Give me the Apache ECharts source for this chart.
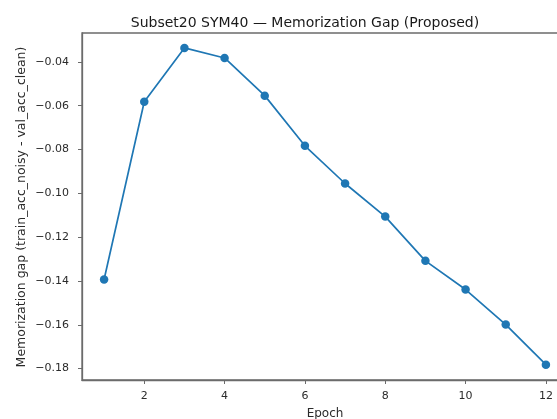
<!DOCTYPE html>
<html>
<head>
<meta charset="utf-8">
<script src="https://cdn.jsdelivr.net/npm/echarts@6/dist/echarts.min.js"></script>
<style>
  html, body { margin: 0; padding: 0; background: #fff; }
  #chart { width: 557px; height: 419px; }
</style>
</head>
<body>
<div id="chart"></div>
<script>
// Memorization gap per epoch for the proposed method (Subset20, SYM40)
const epochs = [1, 2, 3, 4, 5, 6, 7, 8, 9, 10, 11, 12];
const gapValues = [-0.1393, -0.0582, -0.0336, -0.0382, -0.0554, -0.0783,
                   -0.0955, -0.1106, -0.1308, -0.1439, -0.1599, -0.1782];
const xTicks = [2, 4, 6, 8, 10, 12];
const yTicks = [-0.18, -0.16, -0.14, -0.12, -0.10, -0.08, -0.06, -0.04];

const titleText = 'Subset20 SYM40 \u2014 Memorization Gap (Proposed)';
const xLabel = 'Epoch';
const yLabel = 'Memorization gap (train_acc_noisy - val_acc_clean)';

const fontFamily = '"DejaVu Sans", sans-serif';
const spineColor = '#6b6b6b';
const textColor = '#2b2b2b';

const chart = echarts.init(document.getElementById('chart'), null, { renderer: 'canvas' });

const fmt = v => (v < 0 ? '\u2212' : '') + Math.abs(v).toFixed(2);

chart.setOption({
  animation: false,
  backgroundColor: '#ffffff',
  title: {
    text: titleText,
    left: 300,
    top: 11,
    textAlign: 'center',
    textStyle: { fontFamily, fontSize: 14, fontWeight: 'normal', color: '#1a1a1a' }
  },
  graphic: [{
    type: 'text',
    x: 22,
    y: 207,
    rotation: Math.PI / 2,
    style: {
      text: yLabel,
      fontFamily,
      fontSize: 12.5,
      fill: textColor,
      align: 'center',
      verticalAlign: 'middle'
    }
  }],
  grid: {
    left: 82, top: 33, width: 486, height: 347,
    outerBoundsMode: 'none',
    containLabel: false,
    show: true, borderColor: spineColor, borderWidth: 1.3, backgroundColor: 'transparent'
  },
  xAxis: {
    type: 'value',
    min: 0.45,
    max: 12.55,
    name: xLabel,
    nameLocation: 'middle',
    nameGap: 28,
    nameTextStyle: { fontFamily, fontSize: 12, color: textColor },
    axisLine: { show: true, lineStyle: { color: spineColor, width: 1.3 } },
    axisTick: { show: true, length: 4, customValues: xTicks, lineStyle: { color: spineColor } },
    axisLabel: { customValues: xTicks, fontFamily, fontSize: 11, color: textColor, margin: 11 },
    splitLine: { show: false }
  },
  yAxis: {
    type: 'value',
    min: -0.1852,
    max: -0.0268,
    axisLine: { show: true, lineStyle: { color: spineColor, width: 1.3 } },
    axisTick: { show: true, length: 4, customValues: yTicks, lineStyle: { color: spineColor } },
    axisLabel: { customValues: yTicks, formatter: fmt, fontFamily, fontSize: 11, color: textColor, margin: 13 },
    splitLine: { show: false }
  },
  series: [{
    type: 'line',
    data: epochs.map((e, i) => [e, gapValues[i]]),
    symbol: 'circle',
    symbolSize: 8.5,
    lineStyle: { color: '#1f77b4', width: 1.7 },
    itemStyle: { color: '#1f77b4' }
  }]
});
</script>
</body>
</html>
